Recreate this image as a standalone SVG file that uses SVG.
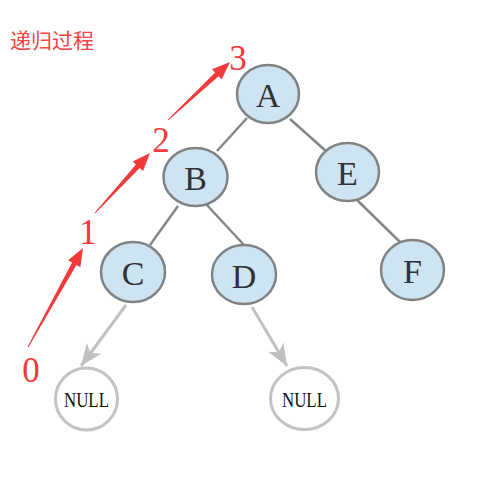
<svg xmlns="http://www.w3.org/2000/svg" width="503" height="482" viewBox="0 0 503 482">
<style>
.node ellipse{fill:#cfe4f3;stroke:#808384;stroke-width:2.5}
.node text{font-family:"Liberation Serif","DejaVu Serif",serif;font-size:34px;fill:#2f3438;text-anchor:middle}
.null ellipse{fill:#fff;stroke:#c3c3c3;stroke-width:3}
.null text{font-family:"Liberation Serif","DejaVu Serif",serif;font-size:21px;fill:#111;text-anchor:middle}
.edge{stroke:#858787;stroke-width:2.5;fill:none}
.garrow{stroke:#c0c0c0;stroke-width:3;fill:none}
.red{fill:#f23a3a}
.num{font-family:"Liberation Serif","DejaVu Serif",serif;font-size:35px;fill:#f23a3a;text-anchor:middle}
</style>
<defs>
<marker id="gh" markerUnits="userSpaceOnUse" markerWidth="26" markerHeight="20" refX="22" refY="9" orient="auto">
<path d="M0,0 L22,9 L0,18 L6,9 Z" fill="#c0c0c0"/>
</marker>
</defs>
<text x="10" y="48" font-family="'Noto Sans CJK SC',sans-serif" font-size="21" fill="#f24545">递归过程</text>
<g id="connectors">
<line class="edge" x1="247" y1="118" x2="217" y2="151"/>
<line class="edge" x1="290" y1="119" x2="327" y2="152"/>
<line class="edge" x1="178" y1="206" x2="150" y2="245"/>
<line class="edge" x1="206" y1="204" x2="244" y2="245"/>
<line class="edge" x1="357" y1="200" x2="400" y2="242"/>
<line class="garrow" x1="126" y1="305" x2="81" y2="366" marker-end="url(#gh)"/>
<line class="garrow" x1="252" y1="307" x2="287" y2="366" marker-end="url(#gh)"/>
<polygon class="red" points="28.44,347.24 76.44,264.94 80.38,267.13 83,248 68.14,260.33 72.08,262.52 27.56,346.76"/>
<polygon class="red" points="95.37,213.34 139.68,167.96 143,171 150,153 132.68,161.54 136,164.58 94.63,212.66"/>
<polygon class="red" points="168.34,120.37 218.56,76.13 221.63,79.41 230,62 212.07,69.19 215.14,72.47 167.66,119.63"/>
</g>
<g id="label-0"><text class="num" x="31" y="382">0</text></g>
<g id="label-1"><text class="num" x="88" y="244">1</text></g>
<g id="label-2"><text class="num" x="161" y="152">2</text></g>
<g id="label-3"><text class="num" x="238" y="70">3</text></g>
<g id="node-A" class="node"><ellipse cx="268" cy="94" rx="31" ry="29"/><text x="268" y="107">A</text></g>
<g id="node-B" class="node"><ellipse cx="195.5" cy="177" rx="32" ry="29"/><text x="195.5" y="190">B</text></g>
<g id="node-E" class="node"><ellipse cx="347.5" cy="172" rx="31.5" ry="29"/><text x="347.5" y="185">E</text></g>
<g id="node-C" class="node"><ellipse cx="133" cy="272" rx="32" ry="30"/><text x="133" y="285">C</text></g>
<g id="node-D" class="node"><ellipse cx="244" cy="274.5" rx="32" ry="29.5"/><text x="244" y="287.5">D</text></g>
<g id="node-F" class="node"><ellipse cx="412.5" cy="270" rx="31.5" ry="30"/><text x="412.5" y="283">F</text></g>
<g id="null-C" class="null"><ellipse cx="86.5" cy="399" rx="31" ry="31"/><text x="86.5" y="406.5" textLength="45" lengthAdjust="spacingAndGlyphs">NULL</text></g>
<g id="null-D" class="null"><ellipse cx="304.5" cy="398.5" rx="34" ry="31"/><text x="304.5" y="406.5" textLength="45" lengthAdjust="spacingAndGlyphs">NULL</text></g>
</svg>
